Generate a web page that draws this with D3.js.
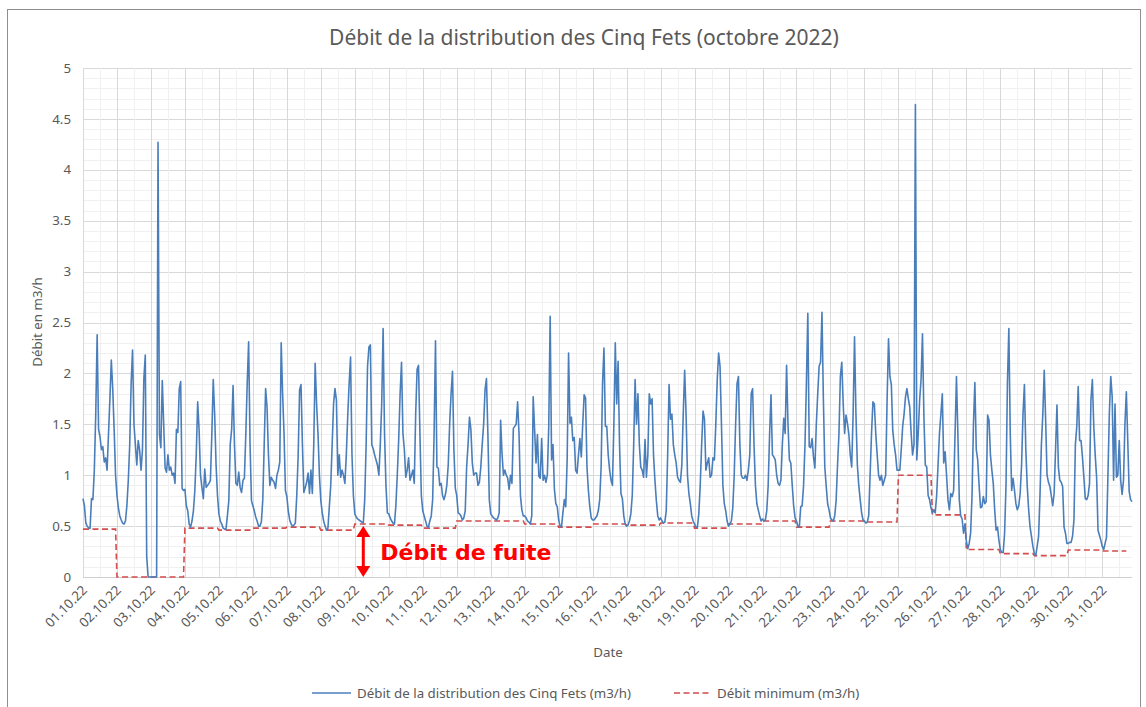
<!DOCTYPE html>
<html>
<head>
<meta charset="utf-8">
<title>Débit Cinq Fets</title>
<script src="https://cdn.jsdelivr.net/npm/d3@7/dist/d3.min.js"></script>
<style>
  body { margin: 0; background: #fff; }
  svg text { font-family: "Noto Sans", "DejaVu Sans", sans-serif; fill: #595959; }
</style>
</head>
<body>
<div id="chart"></div>
<script>
// tick labels, one per day
var dayLabels = ["01.10.22","02.10.22","03.10.22","04.10.22","05.10.22","06.10.22","07.10.22","08.10.22",
  "09.10.22","10.10.22","11.10.22","12.10.22","13.10.22","14.10.22","15.10.22","16.10.22","17.10.22",
  "18.10.22","19.10.22","20.10.22","21.10.22","22.10.22","23.10.22","24.10.22","25.10.22","26.10.22",
  "27.10.22","28.10.22","29.10.22","30.10.22","31.10.22"];

var yTicks = [0, 0.5, 1, 1.5, 2, 2.5, 3, 3.5, 4, 4.5, 5];

// hourly flow (m3/h), one row per day
var flowByDay = [
  [0.77,0.70,0.53,0.50,0.48,0.48,0.77,0.76,1.05,1.6,2.38,1.45,1.38,1.25,1.28,1.13,1.17,1.05,1.4,1.75,2.13,1.85,1.45,1.0],
  [0.8,0.68,0.6,0.56,0.53,0.52,0.55,0.7,0.95,1.3,1.9,2.23,1.5,1.3,1.1,1.34,1.25,1.05,1.25,1.95,2.18,0.2,0,0],
  [0,0,0,0,0,4.27,1.4,1.27,1.93,1.5,1.07,1.03,1.2,1.05,1.08,1.0,1.02,0.92,1.45,1.42,1.85,1.92,0.87,0.85],
  [0.86,0.7,0.65,0.52,0.49,0.55,0.65,0.85,1.2,1.72,1.45,1.0,0.88,0.77,1.06,0.88,0.9,0.92,0.95,1.4,1.94,1.6,1.1,0.8],
  [0.62,0.55,0.52,0.48,0.47,0.47,0.6,0.75,1.3,1.45,1.88,1.3,0.92,0.9,1.03,0.88,0.83,0.95,0.97,1.4,1.9,2.31,1.3,0.75],
  [0.70,0.65,0.59,0.55,0.50,0.50,0.54,0.76,1.3,1.85,1.67,1.2,0.9,0.98,0.95,0.93,0.87,1.0,1.05,1.13,2.3,1.8,1.41,0.85],
  [0.79,0.65,0.56,0.52,0.50,0.51,0.53,0.8,1.2,1.84,1.89,1.3,0.83,0.88,0.93,1.02,0.82,1.05,0.82,1.3,2.1,1.7,1.41,1.0],
  [0.75,0.63,0.55,0.5,0.46,0.48,0.69,0.9,1.3,1.7,1.85,1.74,1.0,1.2,0.98,1.05,1.0,0.92,1.2,1.58,1.9,2.16,1.2,0.8],
  [0.62,0.59,0.57,0.56,0.55,0.54,0.53,0.76,1.3,2.07,2.26,2.28,1.3,1.26,1.2,1.15,1.1,1.0,1.3,1.7,2.44,1.41,0.9,0.63],
  [0.62,0.58,0.55,0.53,0.52,0.7,1.0,1.35,1.8,2.11,1.41,1.25,0.98,1.05,1.17,0.95,1.0,1.05,0.92,1.6,2.04,2.08,1.41,0.8],
  [0.65,0.6,0.55,0.5,0.49,0.55,0.6,0.76,1.4,2.32,1.08,1.07,0.9,0.92,0.8,0.76,0.81,0.9,1.1,1.5,1.8,2.02,1.25,0.87],
  [0.8,0.63,0.62,0.6,0.56,0.58,0.65,1.08,1.3,1.57,1.45,1.12,1.0,1.02,1.02,0.9,0.93,1.08,1.3,1.5,1.84,1.95,1.41,0.76],
  [0.62,0.6,0.58,0.57,0.56,0.58,0.63,1.54,1.21,1.0,1.05,1.0,0.97,0.86,1.0,0.92,1.46,1.48,1.5,1.72,1.41,0.8,0.66,0.6],
  [0.6,0.58,0.55,0.54,0.52,0.6,1.77,1.45,1.12,1.4,0.99,0.97,1.36,0.95,1.0,0.93,1.0,1.48,2.56,1.15,1.3,0.86,0.72,0.69],
  [0.56,0.5,0.49,0.63,0.76,0.69,1.15,2.2,1.51,1.57,1.34,1.37,1.05,1.02,1.2,1.36,1.18,1.5,1.79,1.76,1.08,0.85,0.69,0.58],
  [0.56,0.56,0.58,0.6,0.65,0.76,1.08,1.9,2.25,1.48,1.48,1.2,1.05,0.95,0.9,1.5,2.3,1.7,2.12,1.3,0.82,0.77,0.6,0.52],
  [0.5,0.51,0.55,0.62,0.8,1.3,1.94,1.5,1.8,1.3,1.08,1.05,0.98,1.35,0.98,1.2,1.8,1.7,1.75,1.2,0.95,0.75,0.6,0.56],
  [0.58,0.55,0.53,0.54,0.65,1.2,1.89,1.55,1.6,1.3,1.2,1.12,0.98,0.95,0.93,1.1,1.6,2.03,1.6,1.0,0.82,0.72,0.6,0.55],
  [0.52,0.49,0.49,0.62,0.9,1.3,1.63,1.55,1.05,1.12,1.17,0.98,1.0,1.17,1.15,1.5,1.93,2.2,2.07,1.5,0.9,0.72,0.65,0.55],
  [0.5,0.52,0.55,0.68,1.0,1.5,1.9,1.97,1.3,1.0,0.97,0.97,1.0,0.95,1.05,1.2,1.8,1.85,1.3,0.9,0.72,0.66,0.6,0.55],
  [0.57,0.55,0.56,0.65,0.9,1.4,1.79,1.2,1.18,1.15,1.0,0.92,0.9,0.95,1.3,1.56,1.41,2.08,1.5,1.15,1.12,0.9,0.7,0.58],
  [0.55,0.5,0.49,0.69,0.7,0.9,1.3,1.9,2.59,1.28,1.27,1.36,1.18,1.07,1.5,1.8,2.07,2.11,2.6,1.74,1.08,0.89,0.72,0.66],
  [0.58,0.56,0.55,0.6,0.75,1.1,1.41,1.97,2.11,1.7,1.41,1.59,1.51,1.4,1.2,1.08,1.6,2.36,1.6,1.1,0.9,0.76,0.63,0.56],
  [0.55,0.53,0.54,0.6,1.0,1.41,1.72,1.7,1.41,1.2,1.0,0.95,1.0,0.9,0.95,1.0,1.74,2.34,1.97,1.89,1.44,1.3,1.2,1.05],
  [1.05,1.05,1.25,1.48,1.6,1.77,1.85,1.75,1.67,1.41,1.2,1.3,4.64,1.15,1.41,1.74,1.94,2.39,1.58,1.1,1.08,0.8,0.76,0.68],
  [0.63,0.66,0.63,0.8,1.1,1.41,1.6,1.8,1.12,1.23,1.0,0.76,0.66,0.82,0.79,0.85,1.4,1.97,1.41,0.76,0.6,0.57,0.43,0.52],
  [0.35,0.28,0.33,0.43,0.8,1.5,1.91,1.25,1.15,0.9,0.68,0.69,0.79,0.72,0.74,1.59,1.54,1.2,1.05,0.92,0.66,0.46,0.49,0.36],
  [0.27,0.24,0.24,0.43,0.9,1.9,2.44,1.41,0.85,0.97,0.85,0.72,0.66,0.7,0.82,1.1,1.6,1.89,1.25,0.89,0.66,0.49,0.4,0.3],
  [0.23,0.21,0.3,0.4,0.8,1.3,1.6,2.03,1.54,1.0,0.93,0.89,0.8,0.7,0.82,1.25,1.69,1.08,0.95,0.93,0.89,0.49,0.43,0.33],
  [0.33,0.34,0.34,0.4,0.56,1.3,1.48,1.87,1.34,1.34,1.18,0.98,0.77,0.76,0.8,0.92,1.74,1.94,1.48,1.2,0.98,0.46,0.41,0.36],
  [0.3,0.27,0.33,0.39,1.0,1.61,1.97,1.77,0.95,1.7,0.98,1.0,1.34,0.95,0.81,0.95,1.5,1.82,1.34,0.84,0.76,0.74]
];

// daily minimum flow (m3/h)
var minDaily = [0.47,0,0,0.48,0.46,0.48,0.49,0.46,0.52,0.51,0.48,0.55,0.55,0.52,0.49,0.52,
  0.51,0.53,0.48,0.52,0.55,0.49,0.55,0.54,1.0,0.61,0.27,0.23,0.21,0.265,0.255];
var minLastHour = 737;   // the minimum series stops a few hours before the flow

// leak annotation
var leakHour = 198, leakTop = 0.5, leakText = "Débit de fuite";

var W = 1146, H = 707;
var pLeft = 83, pRight = 1132, pTop = 68, pBottom = 577;
var blue = "#4a7ebb", red = "#d44c4c";

var flow = [];
flowByDay.forEach(function (row, d) {
  row.forEach(function (v, h) { flow.push([d * 24 + h, v]); });
});
var lastHour = flow[flow.length - 1][0];

var minPts = [];
minDaily.forEach(function (v, d) {
  minPts.push([d * 24, v]);
  minPts.push([Math.min(d * 24 + 23, minLastHour), v]);
});

var x = d3.scaleLinear().domain([0, lastHour]).range([pLeft, pRight]);
var y = d3.scaleLinear().domain([0, 5]).range([pBottom, pTop]);

var svg = d3.select("#chart").append("svg")
  .attr("width", W).attr("height", H);

svg.append("rect").attr("x", 0).attr("y", 0).attr("width", W).attr("height", H).attr("fill", "#fff");
// chart border
svg.append("rect").attr("x", 7.5).attr("y", 9.5).attr("width", 1133).attr("height", 720)
  .attr("fill", "none").attr("stroke", "#8e8e8e").attr("stroke-width", 1);

// grid: minor every 0.1 / 12 h, major every 0.5 / day
var g = svg.append("g");
g.selectAll("line.ymin").data(d3.range(0, 51)).enter().append("line")
  .attr("x1", pLeft).attr("x2", pRight)
  .attr("y1", function (d) { return Math.round(y(d / 10)) + 0.5; })
  .attr("y2", function (d) { return Math.round(y(d / 10)) + 0.5; })
  .attr("stroke", function (d) { return d % 5 === 0 ? "#d9d9d9" : "#f0f0f0"; });
g.selectAll("line.xmin").data(d3.range(0, 62)).enter().append("line")
  .attr("y1", pTop).attr("y2", pBottom)
  .attr("x1", function (d) { return Math.round(x(d * 12)) + 0.5; })
  .attr("x2", function (d) { return Math.round(x(d * 12)) + 0.5; })
  .attr("stroke", function (d) { return d % 2 === 0 ? "#d9d9d9" : "#f0f0f0"; });
// bottom axis line
svg.append("line").attr("x1", pLeft).attr("x2", pRight)
  .attr("y1", Math.round(y(0)) + 0.5).attr("y2", Math.round(y(0)) + 0.5).attr("stroke", "#d0d0d0");

// y axis labels
svg.selectAll("text.yt").data(yTicks).enter().append("text")
  .attr("x", 71).attr("y", function (d) { return y(d); })
  .attr("dy", "0.35em").attr("text-anchor", "end")
  .style("font-size", "13.3px").text(function (d) { return d; });

// x axis labels, rotated
svg.selectAll("text.xt").data(dayLabels).enter().append("text")
  .attr("transform", function (d, i) {
    return "translate(" + (x(i * 24) + 5) + ",591) rotate(-45)";
  })
  .attr("text-anchor", "end")
  .style("font-size", "13.3px").text(function (d) { return d; });

// series
var line = d3.line().x(function (d) { return x(d[0]); }).y(function (d) { return y(d[1]); });
svg.append("path").datum(minPts).attr("d", line)
  .attr("fill", "none").attr("stroke", red).attr("stroke-width", 1.6)
  .attr("stroke-dasharray", "6,3.5");
svg.append("path").datum(flow).attr("d", line)
  .attr("fill", "none").attr("stroke", blue).attr("stroke-width", 1.6)
  .attr("stroke-linejoin", "round");

// leak arrow + label
var ax = x(leakHour), ay1 = y(leakTop), ay2 = y(0);
svg.append("line").attr("x1", ax).attr("x2", ax).attr("y1", ay1 + 8).attr("y2", ay2 - 8)
  .attr("stroke", "#ff0000").attr("stroke-width", 3);
svg.append("path").attr("d", "M" + ax + "," + ay1 + "l7,11h-14z").attr("fill", "#ff0000");
svg.append("path").attr("d", "M" + ax + "," + ay2 + "l7,-11h-14z").attr("fill", "#ff0000");
svg.append("text").attr("x", ax + 17).attr("y", (ay1 + ay2) / 2 + 8)
  .style("font-size", "22px").style("font-weight", "bold").style("fill", "#ff0000")
  .style("font-family", "'DejaVu Sans', sans-serif")
  .text(leakText);

// titles
svg.append("text").attr("x", 584).attr("y", 45).attr("text-anchor", "middle")
  .style("font-size", "21px").text("Débit de la distribution des Cinq Fets (octobre 2022)");
svg.append("text").attr("x", 608).attr("y", 657).attr("text-anchor", "middle")
  .style("font-size", "13.3px").text("Date");
svg.append("text").attr("transform", "translate(42,322) rotate(-90)").attr("text-anchor", "middle")
  .style("font-size", "13.3px").text("Débit en m3/h");

// legend
var lg = svg.append("g").attr("transform", "translate(0,693)");
lg.append("line").attr("x1", 312).attr("x2", 351).attr("stroke", blue).attr("stroke-width", 1.6);
lg.append("text").attr("x", 357).attr("dy", "0.35em").style("font-size", "13.3px")
  .text("Débit de la distribution des Cinq Fets (m3/h)");
lg.append("line").attr("x1", 674).attr("x2", 711).attr("stroke", red).attr("stroke-width", 1.6)
  .attr("stroke-dasharray", "6,3.5");
lg.append("text").attr("x", 717).attr("dy", "0.35em").style("font-size", "13.3px")
  .text("Débit minimum (m3/h)");
</script>
</body>
</html>
